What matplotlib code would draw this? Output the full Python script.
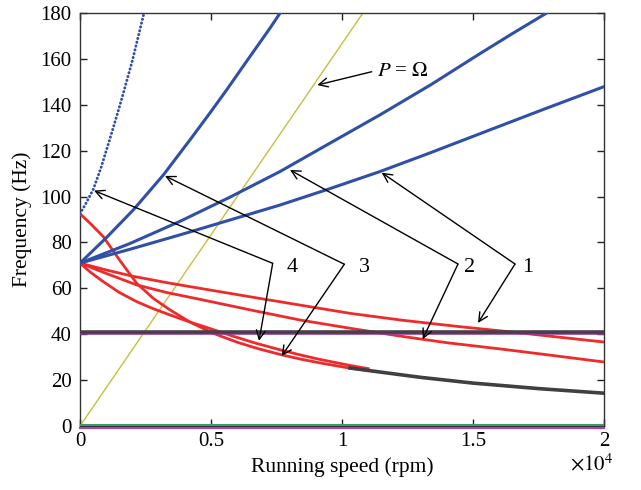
import numpy as np
import matplotlib
matplotlib.use('Agg')
import matplotlib.pyplot as plt

plt.rcParams['font.family'] = ['Liberation Serif', 'DejaVu Serif']
plt.rcParams['mathtext.fontset'] = 'stix'

# forward whirl (blue)
b1_x = [0, 1900, 3817, 5700, 7634, 9500, 11450, 13400, 15267, 17600, 20000]
b1_y = [71, 77.0, 83.3, 89.7, 96.3, 103.3, 110.9, 119.2, 127.4, 137.6, 147.9]
b2_x = [0, 1900, 3817, 5700, 7634, 9500, 11450, 13400, 15267, 16500, 17812, 18000]
b2_y = [71, 79.5, 89.2, 99.6, 110.9, 123.0, 135.6, 148.8, 162.3, 171.0, 180.0, 181.3]
b3_x = [0, 1000, 2036, 3181, 4198, 4900, 5598, 6400, 7252, 7650]
b3_y = [71, 82.0, 94.2, 109.4, 124.7, 135.5, 146.5, 159.6, 173.4, 180.2]
b4_x = [0, 250, 509, 800, 1100, 1400, 1653, 2000, 2417, 2470]
b4_y = [92.5, 97.5, 103.2, 112.5, 123.6, 135.0, 145.0, 159.3, 178.8, 181.0]

# backward whirl (red)
rA_x = [0, 400, 890, 1500, 2163, 2800, 3435, 4200, 5089, 6000, 6800, 7634,
        8397, 9160, 10305, 11000]
rA_y = [92.5, 88.2, 82.5, 72.5, 62.2, 55.6, 50.6, 45.3, 40.4, 36.5, 33.7, 31.2,
        29.2, 27.5, 25.2, 24.2]
rB_x = [0, 400, 890, 1500, 2163, 2800, 3435, 4200, 5089, 5800, 6616, 7634,
        8397, 9160, 10305, 11000]
rB_y = [71, 67.0, 62.9, 58.2, 54.2, 51.1, 48.4, 45.3, 42.0, 39.3, 36.4, 33.2,
        31.0, 29.0, 26.4, 25.0]
rC_x = [0, 1000, 2163, 3300, 4580, 6500, 8397, 10305, 11200, 12210, 14000,
        16030, 18000, 20000]
rC_y = [71, 66.5, 61.5, 58.2, 55.2, 50.6, 46.2, 42.6, 41.0, 39.2, 36.3,
        33.6, 30.8, 27.9]
rD_x = [0, 1000, 2000, 3300, 4580, 6500, 8397, 10305, 12300, 14400, 16530,
        18300, 20000]
rD_y = [71, 68.0, 65.3, 62.5, 60.0, 56.3, 52.7, 49.1, 46.1, 43.4, 40.9,
        38.7, 36.6]

# black tail
k_x = [10305, 11000, 13000, 15000, 17500, 20000]
k_y = [25.3, 24.2, 21.2, 18.7, 16.3, 14.3]

# horizontal modes
h_x = [0, 20000]
h_dark = [41.0, 41.0]
h_purple = [40.5, 40.5]
g_y = [0.3, 0.3]
p_y = [-0.7, -0.7]

# P = Omega line (Hz = rpm / 60)
om_x = [0, 20000]
om_y = [0, 20000 / 60]

fig = plt.figure(figsize=(6.41, 4.90), dpi=100)
ax = fig.add_axes([0.1248, 0.1306, 0.8175, 0.8429])

blue = '#3050a8'
red = '#ee2a2a'

ax.plot(om_x, om_y, color='#c4c040', lw=1.0, zorder=2)
ax.plot(h_x, g_y, color='#3a9a6a', lw=1.5, zorder=3)
ax.plot(h_x, p_y, color='#b040b0', lw=1.5, zorder=3, clip_on=False)

for xs, ys in [(rA_x, rA_y), (rB_x, rB_y), (rC_x, rC_y), (rD_x, rD_y)]:
    ax.plot(xs, ys, color=red, lw=2.0, zorder=3, solid_joinstyle='round')
ax.plot(k_x, k_y, color='#404040', lw=2.6, zorder=4, solid_joinstyle='round')

ax.plot(h_x, h_purple, color='#9a3a9a', lw=2.6, zorder=4)
ax.plot(h_x, h_dark, color='#484048', lw=2.6, zorder=5)

for xs, ys in [(b1_x, b1_y), (b2_x, b2_y), (b3_x, b3_y)]:
    ax.plot(xs, ys, color=blue, lw=2.2, zorder=4, solid_joinstyle='round')
ax.plot(b4_x, b4_y, color=blue, lw=2.1, ls=(0, (0.1, 1.25)),
        dash_capstyle='round', zorder=4)

ax.set_xlim(0, 20000)
ax.set_ylim(0, 180)
ax.set_xticks([0, 5000, 10000, 15000, 20000])
ax.set_xticklabels(['0', '0.5', '1', '1.5', '2'])
ax.set_yticks(np.arange(0, 181, 20))
ax.tick_params(direction='in', top=True, right=True, labelsize=15,
               length=5, width=1, colors='#222222', labelcolor='black')
ax.tick_params(axis='x', pad=4)
ax.tick_params(axis='y', pad=6)
for s in ax.spines.values():
    s.set_color('#333333')
    s.set_linewidth(1.0)
ax.set_xlabel('Running speed (rpm)', fontsize=15.5, labelpad=5)
ax.text(0.935, -0.068, r'$\times10^4$', transform=ax.transAxes, fontsize=15,
        ha='left', va='top')
ax.set_ylabel('Frequency (Hz)', fontsize=15.5, labelpad=6)

# annotations
aprops = dict(arrowstyle='->', color='black', lw=1.0, mutation_scale=16,
              shrinkA=0, shrinkB=0)
groups = [
    ('1', (17099, 68.9), (16603, 70.6), [(11515, 110.4), (15191, 44.9)]),
    ('2', (14885, 68.9), (14427, 70.6), [(8015, 111.6), (13080, 37.8)]),
    ('3', (10840, 68.9), (10089, 70.5), [(3244, 109.0), (7698, 30.5)]),
    ('4', (8080, 68.9), (7355, 70.9), [(534, 102.6), (6832, 37.1)]),
]
for lab, tpos, vtx, tips in groups:
    ax.text(tpos[0], tpos[1], lab, fontsize=16, ha='center', va='center')
    for tip in tips:
        ax.annotate('', xy=tip, xytext=vtx, arrowprops=aprops, zorder=6)

ax.annotate('', xy=(9057, 148.6), xytext=(11134, 154.4), arrowprops=aprops)
ax.text(11336, 154.4, r'$P$ = $\Omega$', fontsize=15, ha='left', va='center')

fig.savefig('out.png', dpi=100)
